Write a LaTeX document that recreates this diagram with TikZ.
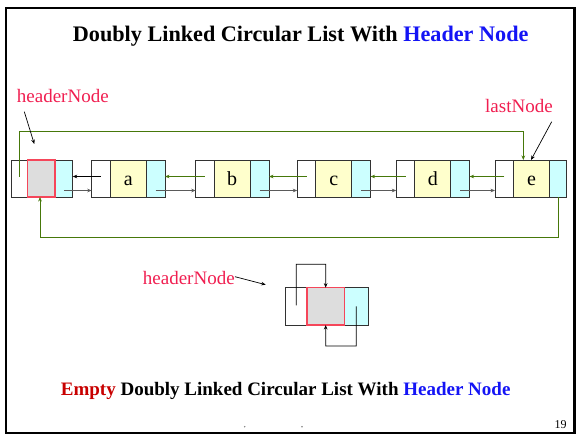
\documentclass[tikz,border=0pt]{standalone}
\usepackage{fontspec}
\setmainfont{Liberation Serif}
\usetikzlibrary{arrows.meta,calc}

\definecolor{labelred}{RGB}{240,30,80}
\definecolor{titleblue}{RGB}{20,20,245}
\definecolor{emptyred}{RGB}{200,0,0}
\definecolor{datayellow}{RGB}{255,255,204}
\definecolor{linkcyan}{RGB}{204,255,255}
\definecolor{headgray}{RGB}{221,221,221}
\definecolor{headborder}{RGB}{245,70,90}
\definecolor{cellborder}{RGB}{50,50,50}
\definecolor{linkgreen}{RGB}{70,120,10}
\definecolor{nextgray}{RGB}{90,90,90}

\begin{document}
\begin{tikzpicture}[x=1pt,y=-1pt,
  cell/.style={draw=cellborder, line width=0.8pt, anchor=north west,
    minimum height=37pt, inner sep=0pt, outer sep=0pt},
  datacell/.style={cell, fill=datayellow, minimum width=36pt,
    font=\fontsize{20}{24}\selectfont, text height=14pt, text depth=0pt},
  leftcell/.style={cell, fill=white, minimum width=18.5pt},
  rightcell/.style={cell, fill=linkcyan, minimum width=18.8pt},
  headcell/.style={cell, fill=headgray},
  headedge/.style={draw=headborder, line width=1.15pt},
  tipstyle/.style={-{Stealth[length=4.5pt,width=3.6pt]}},
  nextlink/.style={tipstyle, draw=nextgray, line width=0.9pt},
  prevlink/.style={tipstyle, draw=linkgreen, line width=0.8pt},
  ringlink/.style={tipstyle, draw=linkgreen, line width=0.9pt},
  pointer/.style={tipstyle, draw=black, line width=0.7pt},
  redlabel/.style={text=labelred, font=\fontsize{19}{22}\selectfont, inner sep=0pt, anchor=base west},
]
\useasboundingbox (0,0) rectangle (576,439);

% slide frame
\draw[line width=2.5pt] (6.2,8) rectangle (574.3,433.2);

% title
\node[anchor=base west, inner sep=0pt, font=\fontsize{22.2}{26}\selectfont\bfseries] (title)
  at (72.7,41.9) {Doubly Linked Circular List With \textcolor{titleblue}{Header Node}};

% header node of the list
\node[leftcell, minimum width=16.7pt] (Lh) at (11,160) {};
\node[cell, fill=linkcyan, minimum width=17.7pt] (Rh) at (55,160) {};
\node[headcell, minimum width=27.3pt] (Dh) at (27.7,160) {};
\draw[headedge] (Dh.north west) rectangle (Dh.south east);

% element nodes
\node[leftcell] (La) at (91.7,160) {};
\node[datacell] (Da) at (La.north east) {a};
\node[rightcell] (Ra) at (Da.north east) {};

\node[leftcell] (Lb) at (195.7,160) {};
\node[datacell] (Db) at (Lb.north east) {b};
\node[rightcell] (Rb) at (Db.north east) {};

\node[leftcell] (Lc) at (297.3,160) {};
\node[datacell] (Dc) at (Lc.north east) {c};
\node[rightcell] (Rc) at (Dc.north east) {};

\node[leftcell] (Ld) at (396.3,160) {};
\node[datacell] (Dd) at (Ld.north east) {d};
\node[rightcell] (Rd) at (Dd.north east) {};

\node[leftcell] (Le) at (495,160) {};
\node[datacell] (De) at (Le.north east) {e};
\node[rightcell, minimum width=17.3pt] (Re) at (De.north east) {};

% forward links
\draw[nextlink] ([yshift=-12pt]Rh.center) -- ([yshift=-12pt]La.west);
\draw[nextlink] ([yshift=-12pt]Ra.center) -- ([yshift=-12pt]Lb.west);
\draw[nextlink] ([yshift=-12pt]Rb.center) -- ([yshift=-12pt]Lc.west);
\draw[nextlink] ([yshift=-12pt]Rc.center) -- ([yshift=-12pt]Ld.west);
\draw[nextlink] ([yshift=-12pt]Rd.center) -- ([yshift=-12pt]Le.west);

% backward links
\draw[prevlink, draw=black] ([yshift=2pt]La.center) -- ([yshift=2pt]Rh.east);
\draw[prevlink] ([yshift=2pt]Lb.center) -- ([yshift=2pt]Ra.east);
\draw[prevlink] ([yshift=2pt]Lc.center) -- ([yshift=2pt]Rb.east);
\draw[prevlink] ([yshift=2pt]Ld.center) -- ([yshift=2pt]Rc.east);
\draw[prevlink] ([yshift=2pt]Le.center) -- ([yshift=2pt]Rd.east);

% circular links through the header
\coordinate (ringtop) at (523.3,131);
\coordinate (ringbot) at (40,237.7);
\draw[ringlink] ([yshift=2pt]Lh.center) |- (ringtop) -- (De.north -| ringtop);
\draw[ringlink] (Re.south) |- (ringbot) -- (Dh.south -| ringbot);

% labels and pointers
\node[redlabel] (hdrlab) at (16.7,102.7) {headerNode};
\coordinate (hp1) at (24.3,111.7);
\coordinate (hp2) at (34.3,144);
\draw[pointer] (hp1) -- (hp2);

\node[redlabel] (lastlab) at (485,112.7) {lastNode};
\coordinate (lp1) at (551.7,121.7);
\draw[pointer] (lp1) -- ([xshift=-0.5pt]De.north);

% empty list: only the header node
\node[leftcell, minimum width=21.7pt, minimum height=37.3pt] (mL) at (285.3,287.7) {};
\node[cell, fill=linkcyan, minimum width=24pt, minimum height=37.3pt] (mR) at (344.3,287.7) {};
\node[headcell, minimum width=37.3pt, minimum height=37.3pt] (mD) at (307,287.7) {};
\draw[headedge] (mD.north west) rectangle (mD.south east);

\coordinate (mtop) at (325.7,264.3);
\coordinate (mbot) at (325.7,346);
\draw[pointer] ([yshift=1pt]mL.center) |- (mtop) -- (mD.north);
\draw[pointer] (mR.center) |- (mbot) -- (mD.south);

\node[redlabel] (emptylab) at (142.7,284.3) {headerNode};
\coordinate (ep1) at (235,276.7);
\coordinate (ep2) at (265.7,284.7);
\draw[pointer] (ep1) -- (ep2);

% caption
\node[anchor=base west, inner sep=0pt, font=\fontsize{19}{23}\selectfont\bfseries] (caption)
  at (60.7,395.3) {\textcolor{emptyred}{Empty} Doubly Linked Circular List With \textcolor{titleblue}{Header Node}};

% footer
\fill[gray] (244.7,426.7) circle (0.8);
\fill[gray] (302,426.7) circle (0.8);
\node[anchor=base east, inner sep=0pt, font=\fontsize{12}{14}\selectfont] (pagenum) at (566.7,428) {19};
\end{tikzpicture}
\end{document}
